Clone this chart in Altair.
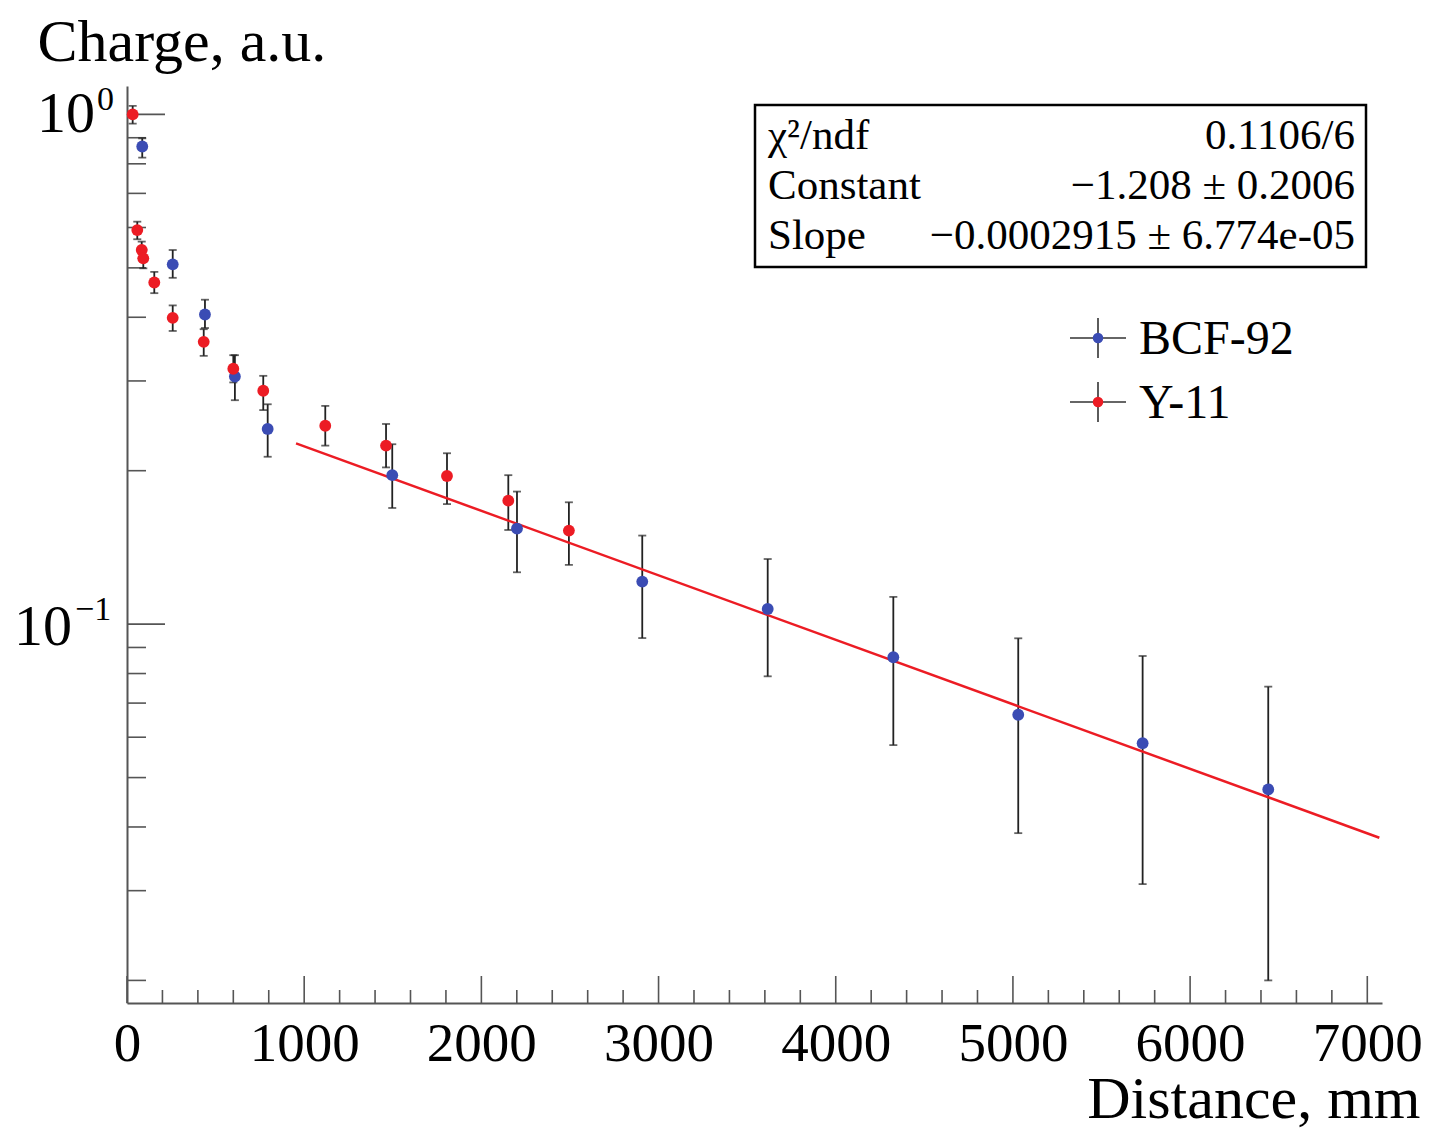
import altair as alt
import pandas as pd

# ---------------- data ----------------
blue_x = [86, 258, 440, 609, 794, 1497, 2201, 2908, 3616, 4325, 5030, 5732, 6441]
blue_y = [0.865, 0.508, 0.405, 0.306, 0.2415, 0.196, 0.154, 0.1212, 0.1071, 0.0861, 0.0664, 0.0584, 0.0474]
blue_lo = [0.823, 0.478, 0.381, 0.275, 0.213, 0.169, 0.1264, 0.0939, 0.0790, 0.0579, 0.0389, 0.0309, 0.0200]
blue_hi = [0.898, 0.542, 0.433, 0.337, 0.270, 0.2254, 0.182, 0.1492, 0.1342, 0.1131, 0.0938, 0.0866, 0.0754]

red_x = [32, 58, 83, 92, 154, 258, 433, 600, 769, 1119, 1462, 1806, 2152, 2494]
red_y = [1.00, 0.593, 0.542, 0.522, 0.468, 0.399, 0.358, 0.317, 0.287, 0.245, 0.224, 0.1953, 0.1747, 0.1526]
red_lo = [0.959, 0.569, 0.522, 0.499, 0.446, 0.376, 0.336, 0.298, 0.263, 0.224, 0.203, 0.172, 0.153, 0.1307]
red_hi = [1.039, 0.616, 0.563, 0.543, 0.491, 0.422, 0.379, 0.337, 0.307, 0.268, 0.247, 0.2164, 0.196, 0.1734]

fit_x = [954, 7068]
fit_y = [0.2263, 0.0381]

series_names = ["BCF-92", "Y-11"]
stat_names = ["χ²/ndf", "Constant", "Slope"]
stat_vals = ["0.1106/6", "−1.208 ± 0.2006", "−0.0002915 ± 6.774e-05"]

x_major = [0, 1000, 2000, 3000, 4000, 5000, 6000, 7000]
x_minor = [v for v in range(200, 7001, 200) if v % 1000 != 0]
y_major = [0.1, 1.0]
y_minor = [0.02, 0.03, 0.04, 0.05, 0.06, 0.07, 0.08, 0.09,
           0.2, 0.3, 0.4, 0.5, 0.6, 0.7, 0.8, 0.9]
y_label_vals = [1.0, 0.1]

x_title = "Distance, mm"
y_title = "Charge, a.u."

# ---------------- styling ----------------
W, H = 1255, 917
FONT = "Liberation Serif"
BLUE = "#3b4cb4"
RED = "#ec1c24"
AXC = "#555555"
XDOM = [0, 7083]
YDOM = [0.01806, 1.137]
xs = alt.Scale(domain=XDOM, nice=False, zero=False)
ys = alt.Scale(type="log", domain=YDOM, nice=False)

AX_X = alt.Axis(values=x_major, format="d", labelFont=FONT, labelFontSize=55, labelColor="black",
                ticks=False, domainColor=AXC, domainWidth=2, labelPadding=14, grid=False,
                labelOverlap=False, labelFlush=False,
                title=x_title, titleFont=FONT, titleFontSize=60, titleFontWeight="normal",
                titleColor="black", titleAnchor="end", titleAlign="right",
                titleBaseline="alphabetic", titleX=1293, titleY=114)
AX_Y = alt.Axis(labels=False, ticks=False, domainColor=AXC, domainWidth=2, grid=False,
                title=y_title, titleFont=FONT, titleFontSize=60, titleFontWeight="normal",
                titleColor="black", titleAngle=0, titleAlign="left", titleAnchor="start",
                titleBaseline="alphabetic", titleX=-90, titleY=-26)

one = pd.DataFrame({"k": [0]})

blue = pd.DataFrame({"x": blue_x, "y": blue_y, "lo": blue_lo, "hi": blue_hi})
red = pd.DataFrame({"x": red_x, "y": red_y, "lo": red_lo, "hi": red_hi})
fit = pd.DataFrame({"x": fit_x, "y": fit_y})


def X(f="x"):
    return alt.X(f"{f}:Q", scale=xs, axis=AX_X)


def Y(f="y"):
    return alt.Y(f"{f}:Q", scale=ys, axis=AX_Y)


def errbars(df):
    bar = alt.Chart(df).mark_rule(color="#222222", strokeWidth=1.8).encode(
        x=X(), y=Y("lo"), y2="hi:Q")
    cap_lo = alt.Chart(df).mark_tick(color="#222222", orient="horizontal", size=8, thickness=1.8).encode(
        x=X(), y=Y("lo"))
    cap_hi = alt.Chart(df).mark_tick(color="#222222", orient="horizontal", size=8, thickness=1.8).encode(
        x=X(), y=Y("hi"))
    return [bar, cap_lo, cap_hi]


def points(df, color):
    return alt.Chart(df).mark_circle(color=color, size=140, opacity=1).encode(x=X(), y=Y())


# inward ticks
xt_major = alt.Chart(pd.DataFrame({"v": x_major})).mark_rule(color=AXC, strokeWidth=1.6).encode(
    x=X("v"), y=alt.value(H), y2=alt.value(H - 27))
xt_minor = alt.Chart(pd.DataFrame({"v": x_minor})).mark_rule(color=AXC, strokeWidth=1.6).encode(
    x=X("v"), y=alt.value(H), y2=alt.value(H - 13))
yt_major = alt.Chart(pd.DataFrame({"v": y_major})).mark_rule(color=AXC, strokeWidth=1.6).encode(
    y=Y("v"), x=alt.value(0), x2=alt.value(38))
yt_minor = alt.Chart(pd.DataFrame({"v": y_minor})).mark_rule(color=AXC, strokeWidth=1.6).encode(
    y=Y("v"), x=alt.value(0), x2=alt.value(19))

# y tick labels: "10" with superscript exponent
ylab = pd.DataFrame({"v": y_label_vals, "base": ["10", "10"], "exp": ["0", "−1"]})
ylab_base0 = alt.Chart(ylab).transform_filter("datum.v == 1").mark_text(
    font=FONT, fontSize=58, align="right", baseline="alphabetic", dy=18, color="black").encode(
    y=Y("v"), x=alt.value(-32), text="base:N")
ylab_exp0 = alt.Chart(ylab).transform_filter("datum.v == 1").mark_text(
    font=FONT, fontSize=34, align="left", baseline="alphabetic", dy=-4, color="black").encode(
    y=Y("v"), x=alt.value(-30), text="exp:N")
ylab_base1 = alt.Chart(ylab).transform_filter("datum.v < 1").mark_text(
    font=FONT, fontSize=58, align="right", baseline="alphabetic", dy=21, color="black").encode(
    y=Y("v"), x=alt.value(-55), text="base:N")
ylab_exp1 = alt.Chart(ylab).transform_filter("datum.v < 1").mark_text(
    font=FONT, fontSize=34, align="left", baseline="alphabetic", dy=-4, color="black").encode(
    y=Y("v"), x=alt.value(-52), text="exp:N")

# fit line
fitline = alt.Chart(fit).mark_line(color=RED, strokeWidth=2.5).encode(x=X(), y=Y())

# stats box
box = alt.Chart(one).mark_rect(fill="white", stroke="black", strokeWidth=2.5).encode(
    x=alt.value(628), x2=alt.value(1239), y=alt.value(19), y2=alt.value(181))
box_left = alt.Chart(one).mark_text(text="\n".join(stat_names), lineBreak="\n", lineHeight=50,
                                    font=FONT, fontSize=43, align="left", baseline="alphabetic",
                                    color="black").encode(x=alt.value(641), y=alt.value(63))
box_right = alt.Chart(one).mark_text(text="\n".join(stat_vals), lineBreak="\n", lineHeight=50,
                                     font=FONT, fontSize=43, align="right", baseline="alphabetic",
                                     color="black").encode(x=alt.value(1228), y=alt.value(63))


# legend
def legend_entry(name, color, yc):
    h = alt.Chart(one).mark_rule(color="#333333", strokeWidth=1.6).encode(
        x=alt.value(943), x2=alt.value(999), y=alt.value(yc))
    v = alt.Chart(one).mark_rule(color="#333333", strokeWidth=1.6).encode(
        x=alt.value(971), y=alt.value(yc - 20), y2=alt.value(yc + 20))
    d = alt.Chart(one).mark_circle(color=color, size=110, opacity=1).encode(
        x=alt.value(971), y=alt.value(yc))
    t = alt.Chart(one).mark_text(text=name, font=FONT, fontSize=48, align="left",
                                 baseline="middle", color="black").encode(
        x=alt.value(1012), y=alt.value(yc + 2))
    return [h, v, d, t]


layers = [xt_major, xt_minor, yt_major, yt_minor,
          ylab_base0, ylab_exp0, ylab_base1, ylab_exp1]
layers += errbars(blue) + errbars(red)
layers += [fitline, points(blue, BLUE), points(red, RED)]
layers += [box, box_left, box_right]
layers += legend_entry(series_names[0], BLUE, 252) + legend_entry(series_names[1], RED, 316)

chart = alt.layer(*layers).properties(
    width=W, height=H,
    padding={"left": 119, "top": 78, "right": 42, "bottom": 127},
    autosize=alt.AutoSizeParams(type="none"),
    background="white",
).configure_view(stroke=None)

chart.save("out.html", embed_options={"renderer": "svg", "actions": False})
